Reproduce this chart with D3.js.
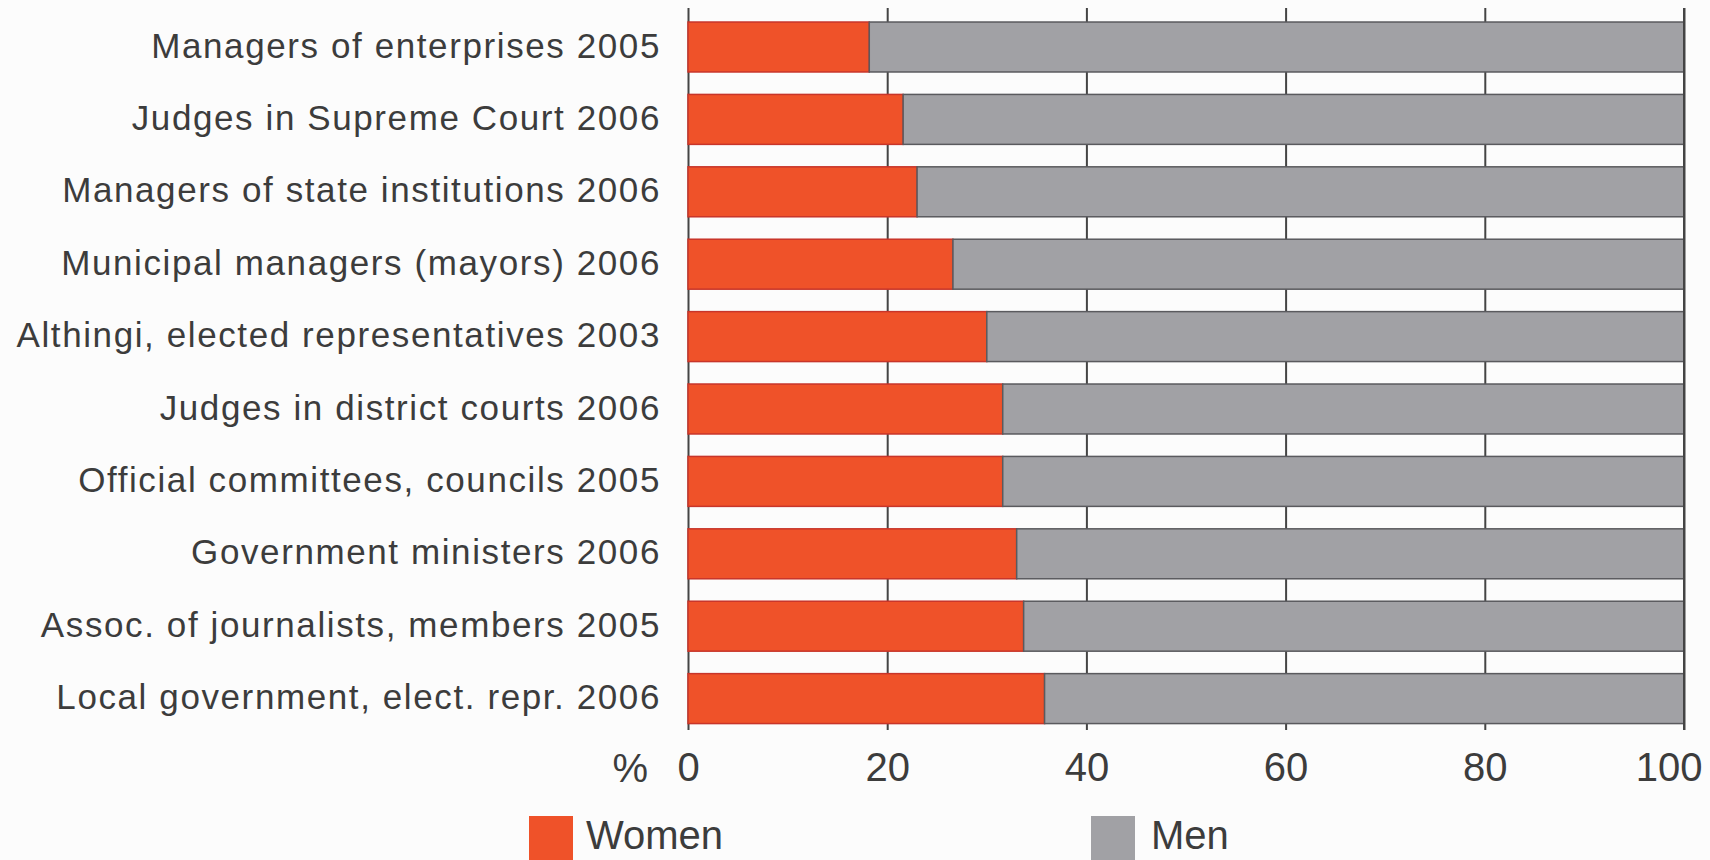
<!DOCTYPE html>
<html>
<head>
<meta charset="utf-8">
<script src="https://cdn.jsdelivr.net/npm/d3@7"></script>
<style>
  body { margin: 0; background: #fcfcfc; }
  svg { display: block; font-family: "Liberation Sans", Arial, Helvetica, sans-serif; }
</style>
</head>
<body>
<div id="chart"></div>
<script>
// categories, top to bottom
const categories = [
  "Managers of enterprises 2005",
  "Judges in Supreme Court 2006",
  "Managers of state institutions 2006",
  "Municipal managers (mayors) 2006",
  "Althingi, elected representatives 2003",
  "Judges in district courts 2006",
  "Official committees, councils 2005",
  "Government ministers 2006",
  "Assoc. of journalists, members 2005",
  "Local government, elect. repr. 2006"
];
// share of women, %
const women = [18.2, 21.6, 23.0, 26.6, 30.0, 31.6, 31.6, 33.0, 33.7, 35.8];
// share of men, %
const men = [81.8, 78.4, 77.0, 73.4, 70.0, 68.4, 68.4, 67.0, 66.3, 64.2];
const seriesNames = ["Women", "Men"];
const tickValues = [0, 20, 40, 60, 80, 100];

const width = 1710, height = 860;
const gridTop = 8, gridBottom = 730;
const textColor = "#3c3c3c";
const colors = { Women: "#ef5229", Men: "#a1a1a5" };
const strokes = { Women: "#c8352a", Men: "#5a5a5e" };

const svg = d3.select("#chart")
  .append("svg")
  .attr("width", width)
  .attr("height", height);

const x = d3.scaleLinear()
  .domain([0, 100])
  .range([688, 1684]);

const y = d3.scaleBand()
  .domain(categories)
  .range([10.8, 734.8])
  .paddingInner(0.31)
  .paddingOuter(0.155);

// gridlines + tick labels
const xAxis = svg.append("g")
  .attr("transform", "translate(0," + gridBottom + ")")
  .call(d3.axisBottom(x)
    .tickValues(tickValues)
    .tickSize(-(gridBottom - gridTop))
    .tickPadding(23)
    .tickFormat(d3.format("d")));
xAxis.select(".domain").remove();
xAxis.selectAll("line")
  .attr("stroke", "#444")
  .attr("stroke-width", 2);
xAxis.selectAll("text")
  .attr("fill", textColor)
  .style("font-size", "40px");
// last label sits left of its tick so it stays inside the page
xAxis.selectAll("text")
  .filter(d => d === 100)
  .attr("text-anchor", "end")
  .attr("x", 18);

svg.append("text")
  .attr("x", 648)
  .attr("y", 782)
  .attr("text-anchor", "end")
  .attr("fill", textColor)
  .style("font-size", "40px")
  .text("%");

// stacked bars
const stacked = categories.map((c, i) => ({ cat: c, Women: women[i], Men: men[i] }));
const stack = d3.stack().keys(seriesNames)(stacked);

svg.append("g")
  .selectAll("g")
  .data(stack)
  .join("g")
  .attr("fill", d => colors[d.key])
  .attr("stroke", d => strokes[d.key])
  .attr("stroke-width", 1.5)
  .selectAll("rect")
  .data(d => d)
  .join("rect")
  .attr("x", d => x(d[0]))
  .attr("y", d => y(d.data.cat))
  .attr("width", d => x(d[1]) - x(d[0]))
  .attr("height", y.bandwidth());

// right edge line at 100 over bars
svg.append("line")
  .attr("x1", x(100)).attr("x2", x(100))
  .attr("y1", gridTop).attr("y2", gridBottom)
  .attr("stroke", "#444")
  .attr("stroke-width", 2);

// category labels
const yAxis = svg.append("g")
  .attr("transform", "translate(" + x(0) + ",0)")
  .call(d3.axisLeft(y).tickSize(0).tickPadding(27));
yAxis.select(".domain").remove();
yAxis.selectAll("text")
  .attr("fill", textColor)
  .attr("dy", "0.3em")
  .style("font-size", "35px")
  .style("letter-spacing", "1.6px");

// legend
const legendX = [529, 1091];
const legend = svg.append("g")
  .selectAll("g")
  .data(seriesNames)
  .join("g")
  .attr("transform", (d, i) => "translate(" + legendX[i] + ",816)");
legend.append("rect")
  .attr("width", 44)
  .attr("height", 44)
  .attr("fill", d => colors[d]);
legend.append("text")
  .attr("x", d => d === "Women" ? 57 : 60)
  .attr("y", 33)
  .attr("fill", textColor)
  .style("font-size", "40px")
  .text(d => d);
</script>
</body>
</html>
